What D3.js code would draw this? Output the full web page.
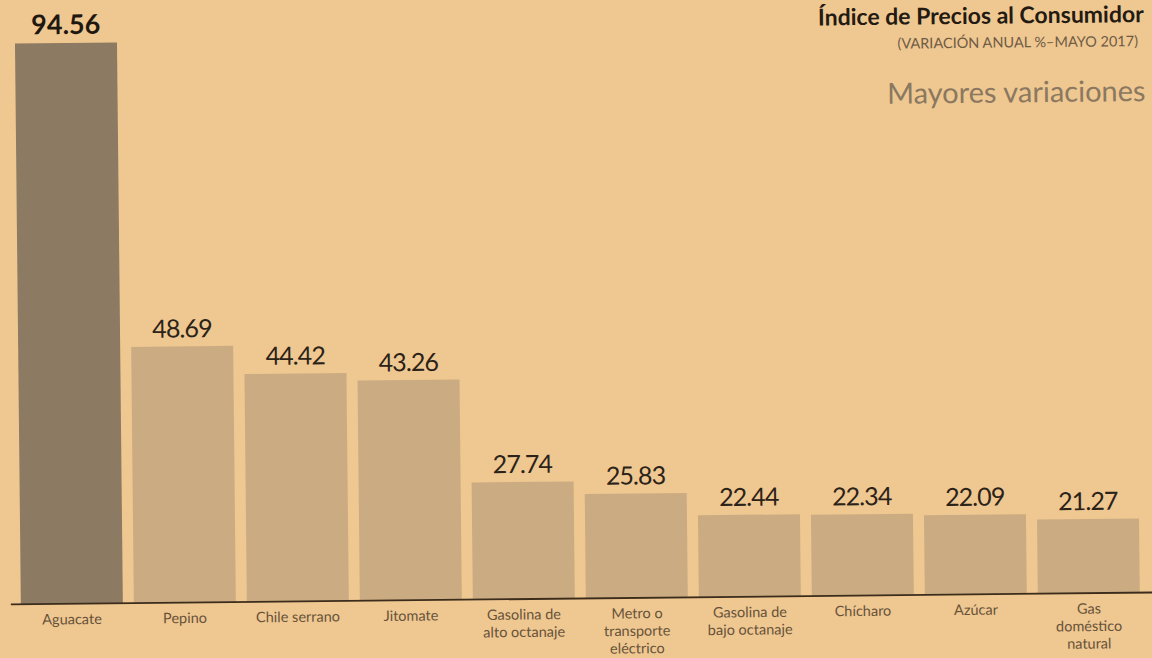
<!DOCTYPE html>
<html>
<head>
<meta charset="utf-8">
<script src="https://cdn.jsdelivr.net/npm/d3@7"></script>
<style>
  html, body { margin: 0; padding: 0; background: #efc791; }
  svg { display: block; }
</style>
</head>
<body>
<svg id="chart" width="1152" height="658"></svg>
<script>
// ---- data ----
const categories = [
  ["Aguacate"],
  ["Pepino"],
  ["Chile serrano"],
  ["Jitomate"],
  ["Gasolina de", "alto octanaje"],
  ["Metro o", "transporte", "eléctrico"],
  ["Gasolina de", "bajo octanaje"],
  ["Chícharo"],
  ["Azúcar"],
  ["Gas", "doméstico", "natural"]
];
const values = [94.56, 48.69, 44.42, 43.26, 27.74, 25.83, 22.44, 22.34, 22.09, 21.27];
const valueLabels = ["94.56", "48.69", "44.42", "43.26", "27.74", "25.83", "22.44", "22.34", "22.09", "21.27"];
const title = "Índice de Precios al Consumidor";
const subtitle = "(VARIACIÓN ANUAL %–MAYO 2017)";
const subtitle2 = "Mayores variaciones";

// ---- layout ----
const W = 1152, H = 658;
const baseY = 598.5;
const svg = d3.select("#chart");
svg.append("rect").attr("x", 0).attr("y", 0).attr("width", W).attr("height", H).attr("fill", "#efc791");

const g = svg.append("g").attr("transform", "rotate(-0.6, 576, 329)");

const keys = categories.map((c, i) => i);
const x = d3.scaleBand().domain(keys).range([18, 1137]).paddingInner(0.0973).paddingOuter(0);
const y = d3.scaleLinear().domain([10.1, 94.56]).range([baseY, 37.7]);

// bars
g.selectAll("rect.bar").data(values).join("rect")
  .attr("class", "bar")
  .attr("x", (d, i) => x(i))
  .attr("y", d => y(d))
  .attr("width", x.bandwidth())
  .attr("height", d => baseY - y(d))
  .attr("fill", (d, i) => i === 0 ? "#8d7a63" : "#cbac82");

// value labels
g.selectAll("text.val").data(values).join("text")
  .attr("class", "val")
  .attr("x", (d, i) => x(i) + x.bandwidth() / 2)
  .attr("y", d => y(d) - 9)
  .attr("text-anchor", "middle")
  .attr("font-family", "Lato, 'Open Sans', sans-serif")
  .attr("font-size", (d, i) => i === 0 ? 27 : 25)
  .attr("font-weight", (d, i) => i === 0 ? 700 : 400)
  .attr("letter-spacing", (d, i) => i === 0 ? 0 : -0.9)
  .attr("fill", (d, i) => i === 0 ? "#1f1810" : "#2b2218")
  .text((d, i) => valueLabels[i]);

// baseline axis
const xAxis = d3.axisBottom(x).tickSize(0).tickFormat("");
const axisG = g.append("g").attr("transform", `translate(0,${baseY})`).call(xAxis);
axisG.select(".domain").remove();
g.append("line")
  .attr("x1", 8).attr("x2", 1160)
  .attr("y1", baseY).attr("y2", baseY)
  .attr("stroke", "#3b2c1c").attr("stroke-width", 1.8);

// category labels
const catG = g.selectAll("text.cat").data(categories).join("text")
  .attr("class", "cat")
  .attr("text-anchor", "middle")
  .attr("font-family", "Lato, 'Open Sans', sans-serif")
  .attr("font-size", 14.5)
  .attr("fill", "#67533a");
catG.each(function(lines, i) {
  const t = d3.select(this);
  lines.forEach((ln, j) => {
    t.append("tspan")
      .attr("x", x(i) + x.bandwidth() / 2)
      .attr("y", 619 + j * 17.5)
      .text(ln);
  });
});

// titles
g.append("text")
  .attr("x", 1147).attr("y", 28)
  .attr("text-anchor", "end")
  .attr("font-family", "Lato, 'Open Sans', sans-serif")
  .attr("font-weight", 700)
  .attr("font-size", 23)
  .attr("fill", "#231a12")
  .text(title);
g.append("text")
  .attr("x", 1141).attr("y", 52)
  .attr("text-anchor", "end")
  .attr("font-family", "Lato, 'Open Sans', sans-serif")
  .attr("font-size", 14.5)
  .attr("fill", "#6e5b44")
  .text(subtitle);
g.append("text")
  .attr("x", 1148).attr("y", 107)
  .attr("text-anchor", "end")
  .attr("font-family", "Lato, 'Open Sans', sans-serif")
  .attr("font-size", 29)
  .attr("fill", "#8a7860")
  .text(subtitle2);
</script>
</body>
</html>
